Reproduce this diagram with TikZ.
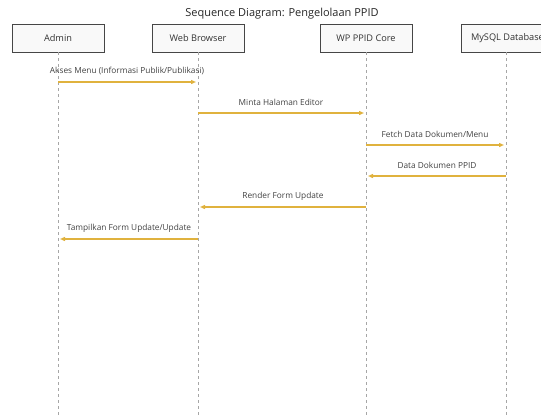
\documentclass[tikz,border=0pt]{standalone}
\usepackage{fontspec}
\setmainfont{Open Sans}
\usetikzlibrary{positioning, arrows.meta}
\definecolor{msggold}{RGB}{224, 178, 62}
\definecolor{boxline}{RGB}{70, 70, 70}

\begin{document}
\begin{tikzpicture} [
      x=1pt, y=-1pt,
      font=\fontsize{8.3}{10}\selectfont,
      >={Triangle[length=5pt, width=4pt]},
      actor/.style={rectangle, draw=boxline, line width=0.9pt, fill=gray!5, minimum width=92pt, minimum height=28pt, font=\fontsize{9.2}{11}\selectfont, text=black!80},
      lifeline/.style={dashed, draw=gray!70, line width=0.7pt},
      msg/.style={->, line width=1.3pt, draw=msggold},
      note/.style={midway, above=3pt, text=black!75}
  ]
  \clip (0,0) rectangle (541,416);
  \node[text=black!85, font=\fontsize{11}{13}\selectfont] (title) at (282,14) {Sequence Diagram: Pengelolaan PPID};
  \node[actor] (admin) at (58,38) {Admin};
  \node[actor] (browser) at (198,38) {Web Browser};
  \node[actor] (core) at (366,38) {WP PPID Core};
  \node[actor, anchor=west] (db) at (461,38) {MySQL Database};

  % lifelines
  \coordinate (adminEnd) at (58,416);
  \coordinate (browserEnd) at (198,416);
  \coordinate (coreEnd) at (366,416);
  \coordinate (dbEnd) at (506,416);
  \draw[lifeline] (admin) -- (adminEnd);
  \draw[lifeline] (browser) -- (browserEnd);
  \draw[lifeline] (core) -- (coreEnd);
  \draw[lifeline] (db.south -| dbEnd) -- (dbEnd);

  % messages
  \draw[msg] (58,82) -- node[note] {Akses Menu (Informasi Publik/Publikasi)} (196,82);
  \draw[msg] (198,113) -- node[note] {Minta Halaman Editor} (364,113);
  \draw[msg] (366,145) -- node[note] {Fetch Data Dokumen/Menu} (504,145);
  \draw[msg] (506,176) -- node[note] {Data Dokumen PPID} (368,176);
  \draw[msg] (366,207) -- node[note] {Render Form Update} (200,207);
  \draw[msg] (198,239) -- node[note] {Tampilkan Form Update/Update} (60,239);
\end{tikzpicture}
\end{document}
